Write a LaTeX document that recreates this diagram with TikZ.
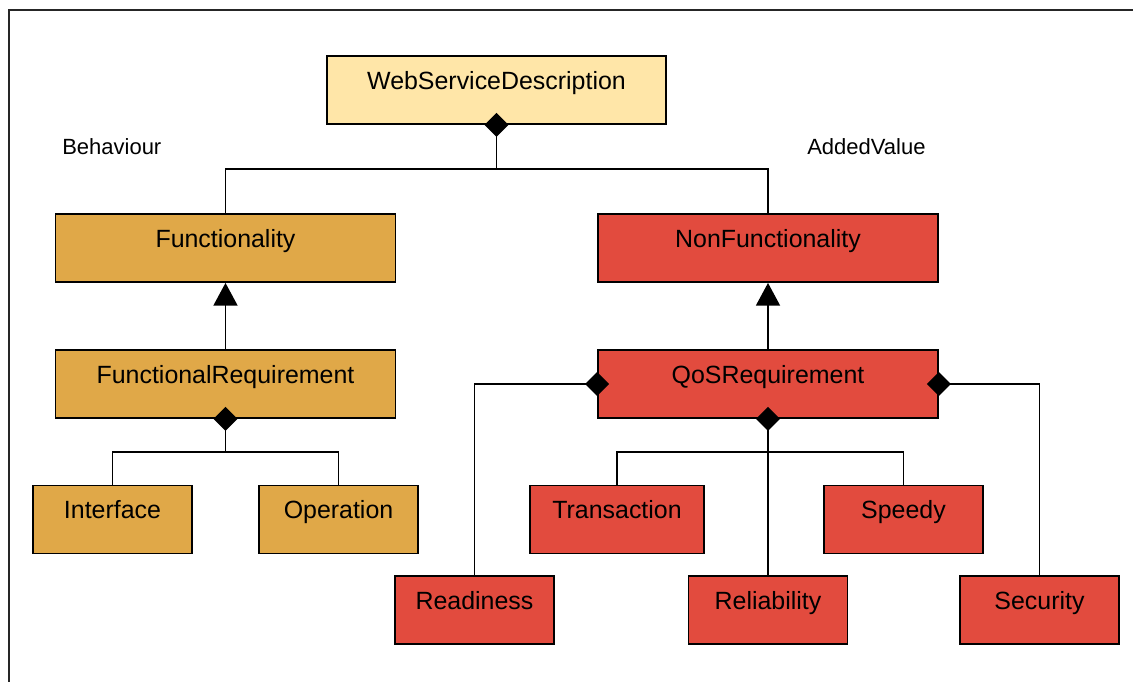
\documentclass[tikz,border=0pt]{standalone}
\usepackage{fontspec}
\setmainfont{Liberation Sans}
\usetikzlibrary{arrows.meta,calc}
\definecolor{wsdfill}{RGB}{255,230,168}
\definecolor{funcfill}{RGB}{224,168,72}
\definecolor{redfill}{RGB}{226,75,62}
\tikzset{
  box/.style={draw=black, line width=1.4pt, rectangle, inner xsep=0pt, inner ysep=0pt,
    minimum height=51pt, text height=24.75pt, text depth=26.25pt,
    font=\fontsize{18.7pt}{22pt}\selectfont},
  wide/.style={minimum width=255pt},
  small/.style={minimum width=119.25pt},
  wsdbox/.style={box, fill=wsdfill},
  funcbox/.style={box, fill=funcfill},
  redbox/.style={box, fill=redfill},
  conn/.style={draw=black, line width=1.15pt},
  comp/.style={conn, {Diamond[length=18pt, width=18pt, sep=0pt]}-},
  gen/.style={conn, -{Triangle[length=17pt, width=18pt]}},
  lbl/.style={anchor=base west, inner sep=0pt, font=\fontsize{16.5pt}{20pt}\selectfont}
}
\begin{document}
\begin{tikzpicture}[x=0.75pt,y=-0.75pt]
\useasboundingbox (0,0) rectangle (1133,682);
\draw[line width=1.1pt, draw=black!85] (9,682) -- (9,10) -- (1133,10);

\node[lbl] (lbeh) at (62,154) {Behaviour};
\node[lbl] (ladd) at (807,154) {AddedValue};

\node[wsdbox, minimum width=254.25pt] (wsd) at (496.5,90) {WebServiceDescription};
\node[funcbox, wide] (func) at (225.5,248) {Functionality};
\node[redbox, wide] (nonf) at (768,248) {NonFunctionality};
\node[funcbox, wide] (freq) at (225.5,384) {FunctionalRequirement};
\node[redbox, wide] (qos) at (768,384) {QoSRequirement};
\node[funcbox, small] (iface) at (112.5,519.5) {Interface};
\node[funcbox, small] (oper) at (338.5,519.5) {Operation};
\node[redbox, minimum width=130.5pt] (trans) at (617,519.5) {Transaction};
\node[redbox, small] (speedy) at (903.5,519.5) {Speedy};
\node[redbox, small] (ready) at (474.5,610) {Readiness};
\node[redbox, small] (relia) at (768,610) {Reliability};
\node[redbox, small] (secur) at (1039.5,610) {Security};

\coordinate (j1) at (496.5,169);
\coordinate (j2) at (225.5,452);
\coordinate (j3) at (768,452);

\draw[comp] ($(wsd.south)+(0,-12)$) -- (j1);
\draw[conn] (j1) -| (func.north);
\draw[conn] (j1) -| (nonf.north);

\draw[gen] (freq.north) -- (func.south);
\draw[gen] (qos.north) -- (nonf.south);

\draw[comp] ($(freq.south)+(0,-12)$) -- (j2);
\draw[conn] (j2) -| (iface.north);
\draw[conn] (j2) -| (oper.north);

\draw[comp] ($(qos.south)+(0,-12)$) -- (relia.north);
\draw[conn] (j3) -| (trans.north);
\draw[conn] (j3) -| (speedy.north);

\draw[comp] ($(qos.west)+(12,0)$) -| (ready.north);
\draw[comp] ($(qos.east)+(-12,0)$) -| (secur.north);
\end{tikzpicture}
\end{document}
